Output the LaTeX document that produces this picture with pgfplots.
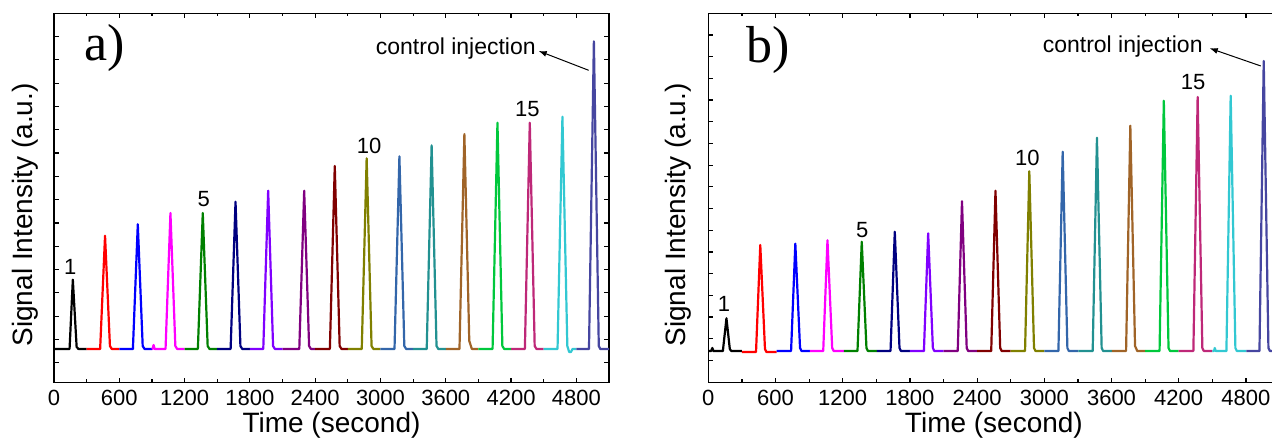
\documentclass[border=0pt]{standalone}
\usepackage{pgfplots}
\pgfplotsset{compat=1.18}
\usepackage{fontspec}
\setmainfont{Liberation Sans}
\newfontfamily\panelfont{Liberation Serif}
\usetikzlibrary{arrows.meta}
\definecolor{c1}{RGB}{0,0,0}
\definecolor{c2}{RGB}{255,0,0}
\definecolor{c3}{RGB}{0,0,255}
\definecolor{c4}{RGB}{255,0,255}
\definecolor{c5}{RGB}{0,128,0}
\definecolor{c6}{RGB}{0,0,128}
\definecolor{c7}{RGB}{128,0,255}
\definecolor{c8}{RGB}{128,0,128}
\definecolor{c9}{RGB}{128,0,0}
\definecolor{c10}{RGB}{128,128,0}
\definecolor{c11}{RGB}{51,102,170}
\definecolor{c12}{RGB}{34,145,145}
\definecolor{c13}{RGB}{160,100,40}
\definecolor{c14}{RGB}{0,200,60}
\definecolor{c15}{RGB}{190,40,120}
\definecolor{c16}{RGB}{50,200,210}
\definecolor{c17}{RGB}{70,70,160}
\pgfplotsset{chrom/.style={
  scale only axis, height=184.7pt, xmin=0, xmax=5100,
  xtick={0,600,...,4800}, minor x tick num=1,
  axis line style={line width=0.75pt},
  tick style={line width=0.6pt, black}, major tick length=2.3pt, minor tick length=1.6pt,
  tick align=inside,
  yticklabels={},
  ticklabel style={font=\fontsize{11}{12}\selectfont},
  /pgf/number format/assume math mode=true,
  /pgf/number format/1000 sep={},
  label style={font=\fontsize{14}{16}\selectfont},
  xlabel={Time (second)}, ylabel={Signal Intensity (a.u.)},
  x label style={at={(axis description cs:0.5,-0.115)},anchor=center},
  y label style={at={(axis description cs:-0.052,0.454)},anchor=center},
  every axis plot/.append style={line width=1.1pt, line join=round, mark=none},
}}
\begin{document}
\begin{tikzpicture}
% ---------------- panel a ----------------
\begin{axis}[chrom, at={(27pt,30.15pt)}, anchor=south west, width=277.5pt,
  ymin=-33.7, ymax=335.7,
  ytick={312.4,289.1,265.8,242.5,219.2,195.9,172.6,149.3,126,102.7,79.4,56.1,32.8,9.5,-13.8}]
\addplot[c1] coordinates {(0,0)(143,0)(173,69.3)(208,2)(225,0)(300,0)};
\addplot[c2] coordinates {(300,0)(424,0)(469,113.3)(514,3)(531,0)(600,0)};
\addplot[c3] coordinates {(600,0)(725,0)(770,124.7)(815,3)(832,0)(900,0)};
\addplot[c4] coordinates {(900,0)(905,0)(915,4)(925,0)(1025,0)(1070,136)(1115,3)(1132,0)(1200,0)};
\addplot[c5] coordinates {(1200,0)(1322,0)(1367,136)(1412,3)(1429,0)(1500,0)};
\addplot[c6] coordinates {(1500,0)(1623,0)(1668,147.3)(1713,3)(1730,0)(1800,0)};
\addplot[c7] coordinates {(1800,0)(1923,0)(1968,158.3)(2013,3)(2030,0)(2100,0)};
\addplot[c8] coordinates {(2100,0)(2254,0)(2299,158.3)(2344,3)(2361,0)(2400,0)};
\addplot[c9] coordinates {(2400,0)(2535,0)(2580,183)(2625,3)(2642,0)(2700,0)};
\addplot[c10] coordinates {(2700,0)(2828,0)(2873,190.7)(2918,3)(2935,0)(3000,0)};
\addplot[c11] coordinates {(3000,0)(3129,0)(3174,192.7)(3219,3)(3236,0)(3300,0)};
\addplot[c12] coordinates {(3300,0)(3425,0)(3470,203.7)(3515,3)(3532,0)(3600,0)};
\addplot[c13] coordinates {(3600,0)(3726,0)(3771,215)(3816,8)(3840,0)(3900,0)};
\addplot[c14] coordinates {(3900,0)(4030,0)(4075,226.3)(4120,3)(4137,0)(4200,0)};
\addplot[c15] coordinates {(4200,0)(4327,0)(4372,226.3)(4417,3)(4434,0)(4500,0)};
\addplot[c16] coordinates {(4500,0)(4627,0)(4672,232.3)(4717,3)(4734,-3)(4750,-3)(4765,0)(4800,0)};
\addplot[c17] coordinates {(4800,0)(4916,0)(4961,307.7)(5006,3)(5020,0)(5100,0)};
\node[font=\fontsize{11}{12}\selectfont] at (axis cs:150,82) {1};
\node[font=\fontsize{11}{12}\selectfont] at (axis cs:1375,150) {5};
\node[font=\fontsize{11}{12}\selectfont] at (axis cs:2896,203.3) {10};
\node[font=\fontsize{11}{12}\selectfont] at (axis cs:4349,240.3) {15};
\node[font=\fontsize{11.5}{12}\selectfont] at (axis cs:3692,300.3) {control injection};
\draw[line width=0.5pt, -{Latex[length=4pt,width=3pt]}] (axis cs:4913,278.7) -- (axis cs:4454,298);
\node[font=\panelfont\fontsize{26}{28}\selectfont] at (axis cs:468,300.7) {a)};
\end{axis}
% ---------------- panel b ----------------
\begin{axis}[chrom, at={(354.15pt,30.15pt)}, anchor=south west, width=285.6pt,
  ymin=-31.7, ymax=337.7,
  ytick={316,294.3,272.6,250.9,229.2,207.5,185.8,164.1,142.4,120.7,99,77.3,55.6,33.9,12.2,-9.5},
  y label style={at={(axis description cs:-0.053,0.454)},anchor=center}]
\addplot[c1] coordinates {(0,0)(25,0)(36,3)(45,0)(130,0)(162,32.7)(192,2)(205,0)(300,0)};
\addplot[c2] coordinates {(300,-1)(426,-1)(464,106)(506,2)(519,-1)(610,-1)};
\addplot[c3] coordinates {(610,0)(739,0)(777,107.3)(819,3)(832,0)(906,0)};
\addplot[c4] coordinates {(906,0)(1026,0)(1064,110.7)(1106,3)(1119,0)(1210,0)};
\addplot[c5] coordinates {(1210,0)(1332,0)(1370,109.3)(1412,3)(1425,0)(1505,0)};
\addplot[c6] coordinates {(1505,0)(1627,0)(1665,119.3)(1707,3)(1720,0)(1800,0)};
\addplot[c7] coordinates {(1800,0)(1925,0)(1963,117.7)(2005,3)(2018,0)(2100,0)};
\addplot[c8] coordinates {(2100,0)(2227,0)(2265,149.7)(2307,3)(2320,0)(2400,0)};
\addplot[c9] coordinates {(2400,0)(2526,0)(2564,160.3)(2606,3)(2619,0)(2700,0)};
\addplot[c10] coordinates {(2700,0)(2828,0)(2866,179.7)(2908,3)(2921,0)(3000,0)};
\addplot[c11] coordinates {(3000,0)(3126,0)(3164,199.3)(3206,3)(3219,0)(3305,0)};
\addplot[c12] coordinates {(3305,0)(3432,0)(3470,213.3)(3512,3)(3525,0)(3603,0)};
\addplot[c13] coordinates {(3603,0)(3730,0)(3768,225.3)(3810,5)(3830,0)(3900,0)};
\addplot[c14] coordinates {(3900,0)(4029,0)(4067,250.3)(4109,3)(4122,0)(4200,0)};
\addplot[c15] coordinates {(4200,0)(4331,0)(4369,254)(4411,3)(4424,0)(4500,0)};
\addplot[c16] coordinates {(4500,0)(4515,0)(4522,3)(4530,0)(4626,0)(4664,255.3)(4706,3)(4719,0)(4804,0)};
\addplot[c17] coordinates {(4804,0)(4921,0)(4959,290)(5001,3)(5014,0)(5100,0)};
\node[font=\fontsize{11}{12}\selectfont] at (axis cs:140,47) {1};
\node[font=\fontsize{11}{12}\selectfont] at (axis cs:1374,121) {5};
\node[font=\fontsize{11}{12}\selectfont] at (axis cs:2848,192.7) {10};
\node[font=\fontsize{11}{12}\selectfont] at (axis cs:4329,269.3) {15};
\node[font=\fontsize{11.5}{12}\selectfont] at (axis cs:3700,304.3) {control injection};
\draw[line width=0.5pt, -{Latex[length=4pt,width=3pt]}] (axis cs:4933,285) -- (axis cs:4477,302.7);
\node[font=\panelfont\fontsize{26}{28}\selectfont] at (axis cs:533,301) {b)};
\end{axis}
\pgfresetboundingbox
\useasboundingbox (0,0) rectangle (636pt,221.5pt);
\end{tikzpicture}
\end{document}
